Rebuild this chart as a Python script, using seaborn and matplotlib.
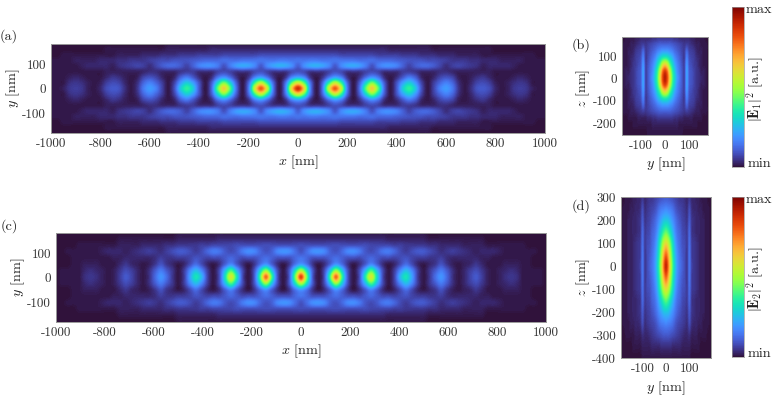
import numpy as np
import matplotlib
matplotlib.use('Agg')
import matplotlib.pyplot as plt
import seaborn as sns

W, H = 777, 398

# field intensity in percent of the colour scale
# panel (a): rows y = 0..184 step 23, columns x = 0..1000 step 25
FIELD_A = [
    [88,62,17,1,15,55, 80,55,15,1,14,42, 63,42,12,1,10,28, 37,27,9,1,7,16, 20,15,5,1,4,9, 10,8,3,1,2,5, 6,5,2,1,1],
    [58,42,14,1,12,36, 54,38,12,1,11,30, 45,30,10,1,9,21, 28,20,7,1,6,12, 16,12,4,1,3,7, 8,6,2,1,2,4, 5,4,1,1,1],
    [22,17,5,1,5,14, 21,16,5,1,5,13, 19,14,4,1,4,10, 15,11,3,1,3,7, 9,7,2,1,2,4, 5,3,1,1,1,2, 3,2,1,1,1],
    [9,8,5,5,5,7, 9,8,5,5,5,7, 8,7,4,4,4,6, 6,5,3,3,3,4, 4,3,2,2,2,2, 2,2,1,1,1,1, 1,1,1,1,1],
    [11,18,22,23,21,17, 10,17,21,22,20,15, 9,15,18,18,16,11, 7,10,12,12,10,7, 4,6,7,6,5,4, 2,3,3,3,3,2, 1,1,1,1,1],
    [14,14,15,15,14,14, 14,14,14,14,13,13, 13,12,12,12,11,10, 9,9,9,8,8,7, 6,5,5,5,4,4, 3,3,3,2,2,2, 2,1,1,1,1],
    [8,8,8,8,8,8, 8,7,7,7,7,7, 7,6,6,6,6,5, 5,5,4,4,4,3, 3,3,2,2,2,2, 1,1,1,1,1,1, 1,1,1,0,0],
    [3,3,3,3,3,3, 3,3,3,3,3,3, 3,3,3,2,2,2, 2,2,2,2,1,1, 1,1,1,1,1,1, 1,1,0,0,0,0, 0,0,0,0,0],
    [1,1,1,1,1,1, 1,1,1,1,1,1, 1,1,1,1,1,1, 1,1,1,1,0,0, 0,0,0,0,0,0, 0,0,0,0,0,0, 0,0,0,0,0],
]
# panel (c): rows y = 0..182 step 26, columns one sixth of the 143 nm period apart
FIELD_C = [
    [84,44,10,1,9,40, 78,40,10,1,8,34, 58,32,8,1,7,24, 33,21,6,1,5,13, 19,12,4,1,3,7, 10,6,2,1,2,4, 5,4,1,1,1,1,0],
    [52,32,10,1,8,27, 48,29,9,1,8,24, 40,25,8,1,6,17, 25,17,6,1,5,10, 15,10,4,1,3,6, 8,5,2,1,2,3, 4,3,1,1,1,1,0],
    [20,14,5,1,4,11, 19,13,5,1,4,10, 17,11,4,1,3,8, 13,8,3,1,3,5, 9,5,2,1,2,3, 5,3,1,1,1,2, 2,2,1,1,0,0,0],
    [14,12,9,9,9,11, 13,11,9,9,8,10, 12,10,8,8,7,8, 9,7,6,6,5,5, 6,4,3,3,3,3, 3,2,2,1,1,1, 1,1,1,1,0,0,0],
    [9,13,18,19,17,11, 9,12,17,18,15,10, 8,10,14,15,12,8, 6,8,10,10,8,6, 4,5,6,5,4,3, 2,3,3,3,2,1, 1,1,1,1,1,0,0],
    [8,8,8,8,8,8, 8,8,8,8,8,8, 7,7,7,7,6,6, 5,5,5,5,4,4, 3,3,3,3,2,2, 2,2,1,1,1,1, 1,1,1,0,0,0,0],
    [3,3,3,3,3,3, 3,3,3,3,3,3, 3,3,3,2,2,2, 2,2,2,2,1,1, 1,1,1,1,1,1, 1,1,0,0,0,0, 0,0,0,0,0,0,0],
    [1,1,1,1,1,1, 1,1,1,1,1,1, 1,1,1,1,1,1, 1,1,1,1,0,0, 0,0,0,0,0,0, 0,0,0,0,0,0, 0,0,0,0,0,0,0],
]
# panel (b): rows z = 180..-240 step 30, columns y = 0..180 step 10
FIELD_B = [
    [5,5,5,5,4,4,3,3,3,3,3,2,2,1,1,1,1,0,0],
    [11,11,11,10,9,8,7,6,5,6,5,4,3,2,2,1,1,1,0],
    [20,20,18,16,13,11,9,7,6,12,7,6,5,3,2,2,1,1,0],
    [36,34,29,24,18,14,11,8,6,16,9,7,6,4,3,2,1,1,0],
    [62,56,42,32,23,17,13,9,7,19,10,8,6,5,3,2,1,1,0],
    [85,76,56,39,28,19,14,10,7,21,11,9,7,5,4,2,2,1,0],
    [92,82,62,42,30,21,15,10,7,21,11,9,7,5,4,3,2,1,0],
    [85,76,56,39,28,19,14,10,7,21,11,9,7,5,4,2,2,1,0],
    [62,56,42,32,23,17,13,9,7,19,10,8,6,5,3,2,1,1,0],
    [36,34,29,24,18,14,11,8,6,16,9,7,6,4,3,2,1,1,0],
    [20,20,18,16,13,11,9,7,6,12,7,6,5,3,2,2,1,1,0],
    [11,11,11,10,9,8,7,6,5,6,5,4,3,2,2,1,1,1,0],
    [5,5,5,5,4,4,3,3,2,2,2,2,1,1,1,1,0,0,0],
    [2,2,2,2,2,2,1,1,1,1,1,1,1,1,0,0,0,0,0],
    [1,1,1,1,1,1,1,1,0,0,0,0,0,0,0,0,0,0,0],
]
# panel (d): rows z = 300..-400 step 50, columns y = 0..190 step 10
FIELD_D = [
    [10,10,9,8,7,6,5,5,4,3,5,3,3,2,2,1,1,1,0,0],
    [17,16,15,13,10,8,7,6,5,4,8,4,3,3,2,2,1,1,1,0],
    [27,26,22,18,14,11,9,7,6,5,10,5,4,3,3,2,2,1,1,0],
    [42,38,31,24,17,13,11,8,7,6,12,5,4,3,3,2,2,1,1,0],
    [60,54,42,31,21,15,12,9,8,6,13,6,5,4,3,2,2,1,1,0],
    [78,68,50,35,24,17,13,10,8,6,14,6,5,4,3,2,2,1,1,0],
    [90,76,55,38,26,18,14,11,8,6,14,7,5,4,3,2,2,1,1,0],
    [78,68,50,35,24,17,13,10,8,6,14,6,5,4,3,2,2,1,1,0],
    [60,54,42,31,21,15,12,9,8,6,13,6,5,4,3,2,2,1,1,0],
    [42,38,31,24,17,13,11,8,7,6,12,5,4,3,3,2,2,1,1,0],
    [27,26,22,18,14,11,9,7,6,5,10,5,4,3,3,2,2,1,1,0],
    [17,16,15,13,10,8,7,6,5,4,8,4,3,3,2,2,1,1,1,0],
    [10,10,9,8,7,6,5,4,3,3,4,2,2,2,1,1,1,1,0,0],
    [4,4,4,3,3,3,3,2,2,2,2,1,1,1,1,0,0,0,0,0],
    [1,1,1,1,1,1,1,1,1,1,1,0,0,0,0,0,0,0,0,0],
]

X_TICKS = [-1000, -800, -600, -400, -200, 0, 200, 400, 600, 800, 1000]
Y_TICKS = [-100, 0, 100]
Z_TICKS_B = [-200, -100, 0, 100]
Z_TICKS_D = [-400, -300, -200, -100, 0, 100, 200, 300]

sns.set_theme(style='white')
plt.rcParams['font.family'] = ['cmr10', 'DejaVu Serif']
plt.rcParams['mathtext.fontset'] = 'cm'
plt.rcParams['axes.unicode_minus'] = False
plt.rcParams['axes.formatter.use_mathtext'] = True

turbo = sns.color_palette('turbo', as_cmap=True)
FS = 9.4
FS_LABEL = 10.2
EDGE = '#9a9a9a'

fig = plt.figure(figsize=(W / 100, H / 100), dpi=100, facecolor='white')


def px_axes(left, top, right, bottom):
    """Make axes from pixel edges of the picture."""
    return fig.add_axes([left / W, 1 - bottom / H, (right - left) / W, (bottom - top) / H])


def px_text(x, y, s, **kw):
    fig.text(x / W, 1 - y / H, s, ha='center', va='center', fontsize=FS_LABEL, color='#222222', **kw)


def style(ax, xticks, yticks):
    ax.set_xticks(xticks)
    ax.set_yticks(yticks)
    ax.set_xticklabels([str(t) for t in xticks])
    ax.set_yticklabels([str(t) for t in yticks])
    ax.tick_params(length=0, pad=3.5, labelsize=FS, labelcolor='#333333')
    for s in ax.spines.values():
        s.set_visible(True)
        s.set_color(EDGE)
        s.set_linewidth(0.7)


def draw_wide(box, field, dx, dy, xticks):
    """Long panels: the table holds one quadrant, the field is mirrored in x and y."""
    q = np.array(field, dtype=float) / 100
    q = np.hstack([q[:, :0:-1], q])
    q = np.vstack([q[:0:-1], q])
    ax = px_axes(*box)
    half_x = (q.shape[1] // 2 + 0.5) * dx
    half_y = (q.shape[0] // 2 + 0.5) * dy
    ax.imshow(q, cmap=turbo, vmin=0, vmax=1, aspect='auto', interpolation='catrom',
              interpolation_stage='data', extent=[-half_x, half_x, -half_y, half_y])
    ax.set_xlim(-1000, 1000)
    ax.set_ylim(-182, 182)
    style(ax, xticks, Y_TICKS)
    return ax


def draw_tall(box, field, dy, dz, ztop, ylim, zlim, zticks):
    """Tall panels: the table holds y >= 0, the field is mirrored in y."""
    q = np.array(field, dtype=float) / 100
    q = np.hstack([q[:, :0:-1], q])
    ax = px_axes(*box)
    half_y = (q.shape[1] // 2 + 0.5) * dy
    zbot = ztop - (q.shape[0] - 1) * dz
    ax.imshow(q, cmap=turbo, vmin=0, vmax=1, aspect='auto', interpolation='catrom',
              interpolation_stage='data', extent=[-half_y, half_y, zbot - dz / 2, ztop + dz / 2])
    ax.set_xlim(*ylim)
    ax.set_ylim(*zlim)
    style(ax, Y_TICKS, zticks)
    return ax


def colorbar(box, label):
    """Vertical strip with max and min written beside it."""
    levels = np.linspace(1, 0, 256)[:, None]
    ax = px_axes(*box)
    sns.heatmap(levels, ax=ax, cmap=turbo, vmin=0, vmax=1, cbar=False,
                xticklabels=False, yticklabels=False)
    for s in ax.spines.values():
        s.set_visible(True)
        s.set_color(EDGE)
        s.set_linewidth(0.5)
    px_text(box[2] + 15, box[1] + 3, 'max')
    px_text(box[2] + 15, box[3] - 3, 'min')
    px_text(box[2] + 12, (box[1] + box[3]) / 2 + 2, label, rotation=90)


draw_wide((51, 44, 545, 133), FIELD_A, 25, 23, X_TICKS)
draw_wide((56, 233, 546, 322), FIELD_C, 143 / 6, 26, X_TICKS)
draw_tall((622, 37, 708, 135), FIELD_B, 10, 30, 180, (-178, 178), (-254, 186), Z_TICKS_B)
draw_tall((621, 197, 711, 358), FIELD_D, 10, 50, 300, (-192, 192), (-400, 300), Z_TICKS_D)

colorbar((732, 7, 744, 167), r'$|\mathbf{E}_1|^2$ [a.u.]')
colorbar((732, 197, 744, 357), r'$|\mathbf{E}_2|^2$ [a.u.]')

px_text(298, 162, r'$x$ [nm]')
px_text(301, 351, r'$x$ [nm]')
px_text(666, 164, r'$y$ [nm]')
px_text(666, 388, r'$y$ [nm]')
px_text(13, 88, r'$y$ [nm]', rotation=90)
px_text(18, 277, r'$y$ [nm]', rotation=90)
px_text(583, 88, r'$z$ [nm]', rotation=90)
px_text(583, 277, r'$z$ [nm]', rotation=90)

px_text(9, 36, '(a)')
px_text(581, 45, '(b)')
px_text(9, 226, '(c)')
px_text(581, 206, '(d)')

fig.savefig('out.png', dpi=100)
